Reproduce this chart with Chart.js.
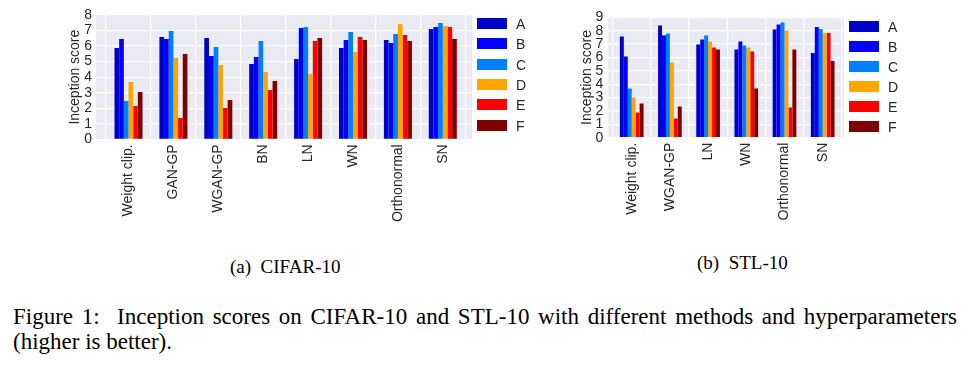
<!DOCTYPE html>
<html>
<head>
<meta charset="utf-8">
<script src="https://cdn.jsdelivr.net/npm/chart.js@4.4.1/dist/chart.umd.min.js"></script>
<style>
  body { margin: 0; width: 963px; height: 368px; background: #fff; position: relative; overflow: hidden; }
  canvas { position: absolute; top: 0; }
  .leg { position: absolute; font: 14px "Liberation Sans", Arial, sans-serif; color: #262626; }
  .leg div { position: absolute; height: 11px; width: 30px; }
  .leg span { position: absolute; line-height: 14px; }
  .cap { position: absolute; font-family: "Liberation Serif", "Times New Roman", serif; color: #000; white-space: pre; }
</style>
</head>
<body>
<canvas id="cifar" width="475" height="232" style="left:0px;width:475px;height:232px"></canvas>
<canvas id="stl" width="350" height="232" style="left:500px;width:350px;height:232px"></canvas>
<div id="legCifar" class="leg" style="left:477px;top:18px"></div>
<div id="legStl" class="leg" style="left:849px;top:21px"></div>
<div class="cap" style="left:230px;top:256px;font-size:19px">(a)  CIFAR-10</div>
<div class="cap" style="left:697px;top:252px;font-size:19px">(b)  STL-10</div>
<div class="cap" style="left:13px;top:304px;width:944px;font-size:23px;text-align:justify;text-align-last:justify;white-space:nowrap">Figure 1:&nbsp; Inception scores on CIFAR-10 and STL-10 with different methods and hyperparameters</div>
<div class="cap" style="left:13px;top:329px;font-size:23px">(higher is better).</div>
<script>
const seriesNames = ['A', 'B', 'C', 'D', 'E', 'F'];
const seriesColors = ['#0000c8', '#0000ff', '#0080ff', '#ffa500', '#ff0000', '#800000'];

const cifarCats = ['Weight clip.', 'GAN-GP', 'WGAN-GP', 'BN', 'LN', 'WN', 'Orthonormal', 'SN'];
const cifarA = [5.88, 6.59, 6.52, 4.85, 5.17, 5.88, 6.39, 7.10];
const cifarB = [6.46, 6.46, 5.36, 5.30, 7.17, 6.39, 6.20, 7.23];
const cifarC = [2.47, 6.97, 5.94, 6.33, 7.23, 6.91, 6.78, 7.49];
const cifarD = [3.69, 5.24, 4.79, 4.33, 4.21, 5.62, 7.42, 7.30];
const cifarE = [2.15, 1.37, 2.02, 3.18, 6.33, 6.59, 6.72, 7.23];
const cifarF = [3.05, 5.49, 2.53, 3.76, 6.52, 6.39, 6.33, 6.46];

const stlCats = ['Weight clip.', 'WGAN-GP', 'LN', 'WN', 'Orthonormal', 'SN'];
const stlA = [7.56, 8.38, 6.97, 6.59, 8.08, 6.34];
const stlB = [6.07, 7.64, 7.34, 7.19, 8.46, 8.28];
const stlC = [3.68, 7.79, 7.64, 6.89, 8.61, 8.13];
const stlD = [3.01, 5.62, 7.19, 6.74, 8.01, 7.83];
const stlE = [1.89, 1.44, 6.74, 6.44, 2.26, 7.83];
const stlF = [2.56, 2.34, 6.59, 3.68, 6.59, 5.74];

const cifarYTicks = [0, 1, 2, 3, 4, 5, 6, 7, 8];
const stlYTicks = [0, 1, 2, 3, 4, 5, 6, 7, 8, 9];

Chart.defaults.font.family = '"Liberation Sans", Arial, sans-serif';
Chart.defaults.font.size = 14;
Chart.defaults.color = '#262626';

const plotBg = {
    id: 'plotBg',
    beforeDraw(chart) {
        const a = chart.chartArea;
        chart.ctx.save();
        chart.ctx.fillStyle = '#eaeaf2';
        chart.ctx.fillRect(a.left, a.top, a.right - a.left, a.bottom - a.top);
        chart.ctx.restore();
    }
};

function makeChart(id, cats, series, yTicks, o) {
    new Chart(document.getElementById(id), {
        type: 'bar',
        data: {
            datasets: series.map((vals, k) => ({
                label: seriesNames[k],
                data: vals.map((v, i) => ({ x: i, y: v })),
                backgroundColor: seriesColors[k],
                borderWidth: 0,
                barPercentage: 1,
                categoryPercentage: o.catPct
            }))
        },
        options: {
            responsive: false,
            animation: false,
            layout: { padding: { left: 0, top: o.top, right: o.right, bottom: 0 } },
            plugins: { legend: { display: false }, tooltip: { enabled: false } },
            scales: {
                x: {
                    type: 'linear',
                    offset: false,
                    min: o.xMin,
                    max: o.xMax,
                    afterFit: s => { s.height = o.xH; },
                    border: { display: false },
                    grid: { color: '#ffffff', lineWidth: 1.2, drawTicks: false },
                    ticks: {
                        stepSize: 1,
                        includeBounds: false,
                        autoSkip: false,
                        minRotation: 90,
                        maxRotation: 90,
                        padding: 5,
                        callback: v => (Number.isInteger(v) && cats[v] !== undefined) ? cats[v] : ''
                    }
                },
                y: {
                    min: yTicks[0],
                    max: yTicks[yTicks.length - 1],
                    afterFit: s => { s.width = o.yW; },
                    afterBuildTicks: s => { s.ticks = yTicks.map(v => ({ value: v })); },
                    border: { display: false },
                    grid: { color: '#ffffff', lineWidth: 1.2, drawTicks: false },
                    ticks: { autoSkip: false, padding: o.tickPad },
                    title: { display: true, text: 'Inception score', padding: { top: o.titlePad, bottom: 0 } }
                }
            }
        },
        plugins: [plotBg]
    });
}

function makeLegend(id, step) {
    const el = document.getElementById(id);
    seriesNames.forEach((n, k) => {
        const box = document.createElement('div');
        box.style.top = (k * step) + 'px';
        box.style.left = '0px';
        box.style.background = seriesColors[k];
        el.appendChild(box);
        const t = document.createElement('span');
        t.textContent = n;
        t.style.top = (k * step - 1) + 'px';
        t.style.left = '39px';
        el.appendChild(t);
    });
}

makeChart('cifar', cifarCats, [cifarA, cifarB, cifarC, cifarD, cifarE, cifarF], cifarYTicks,
    { catPct: 0.624, top: 15, right: 3, xMin: -0.724, xMax: 7.65, xH: 92.7, yW: 96, tickPad: 4, titlePad: 66.6 });
makeChart('stl', stlCats, [stlA, stlB, stlC, stlD, stlE, stlF], stlYTicks,
    { catPct: 0.62, top: 17.3, right: 6, xMin: -0.613, xMax: 5.558, xH: 94.3, yW: 108.3, tickPad: 5, titlePad: 78.3 });

makeLegend('legCifar', 20.3);
makeLegend('legStl', 19.9);
</script>
</body>
</html>
